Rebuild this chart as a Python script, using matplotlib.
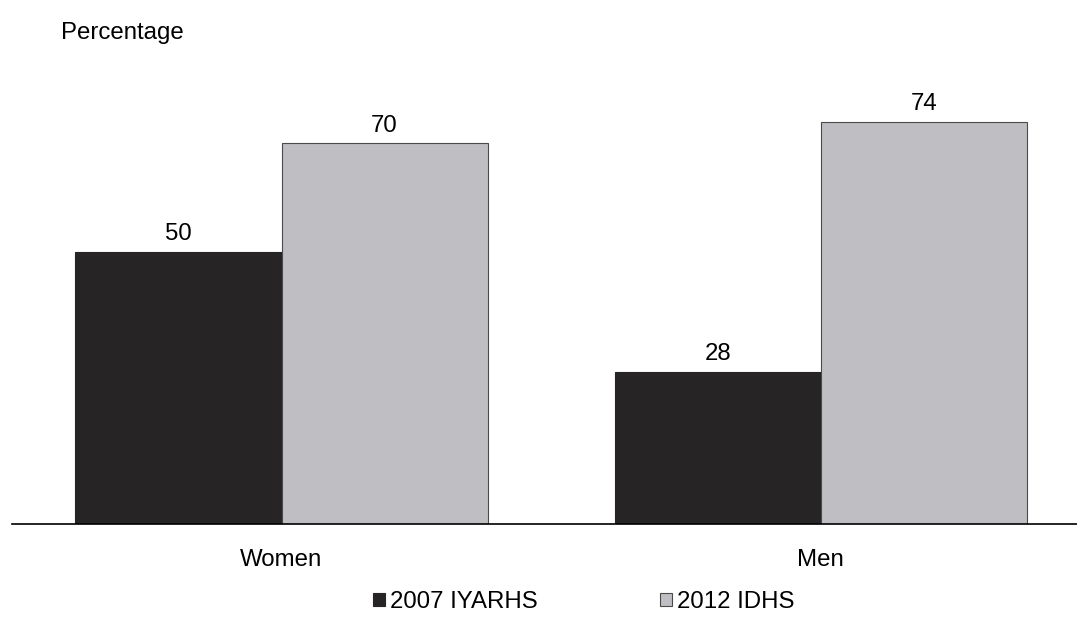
import numpy as np
import matplotlib.pyplot as plt

plt.rcParams['font.family'] = ['Liberation Sans', 'DejaVu Sans']

categories = ["Women", "Men"]
series_names = ["2007 IYARHS", "2012 IDHS"]
values_2007 = [50, 28]
values_2012 = [70, 74]

fs = 17.3

fig = plt.figure(figsize=(10.77, 6.35), dpi=100)
ax = fig.add_axes([0.011, 0.175, 0.989, 0.73])

x = np.arange(len(categories))
w = 0.382
b1 = ax.bar(x - w / 2, values_2007, w, color="#262425", edgecolor="#262425", linewidth=0.8,
            label=series_names[0])
b2 = ax.bar(x + w / 2, values_2012, w, color="#bfbfc3", edgecolor="#4a4a4a", linewidth=0.8,
            label=series_names[1])

for bars in (b1, b2):
    for bar in bars:
        h = bar.get_height()
        ax.annotate(str(h), (bar.get_x() + bar.get_width() / 2, h), xytext=(0, 5),
                    textcoords="offset points", ha="center", va="bottom", fontsize=fs)

ax.set_xlim(-0.5, 1.475)
ax.set_ylim(0, 85.3)
ax.set_xticks(x)
ax.set_xticklabels(categories, fontsize=fs)
ax.tick_params(axis="x", length=0, pad=18)
ax.set_yticks([])
for s in ["top", "right", "left"]:
    ax.spines[s].set_visible(False)
ax.spines["bottom"].set_linewidth(1.2)

fig.text(0.057, 0.948, "Percentage", fontsize=fs, ha="left", va="center")

fig.legend(handles=[b1, b2], loc="center", bbox_to_anchor=(0.542, 0.052), ncol=2, frameon=False,
           fontsize=fs, handlelength=0.5, handleheight=0.5, handletextpad=0.2,
           columnspacing=5.1)

fig.savefig("out.png", dpi=100)
